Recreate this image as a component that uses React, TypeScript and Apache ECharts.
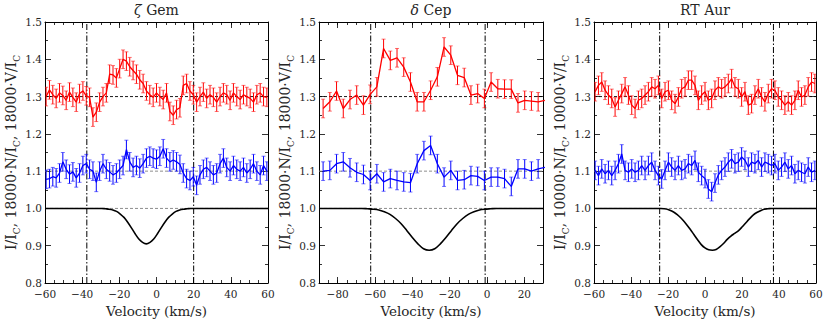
import React, { useEffect, useRef } from "react";
import * as echarts from "echarts";

// ---------- data ----------
// zeta Gem (velocity grid: start, step)
const ZG_V_START = -59.4;
const ZG_V_STEP = 1.8;
const ZG_STOKES_V = [
  1.300, 1.318, 1.305, 1.295, 1.310, 1.303, 1.290, 1.312, 1.298, 1.285,
  1.308, 1.315, 1.302, 1.298, 1.245, 1.258, 1.285, 1.300, 1.310, 1.360,
  1.358, 1.350, 1.375, 1.400, 1.395, 1.380, 1.370, 1.360, 1.345, 1.335,
  1.315, 1.305, 1.298, 1.310, 1.300, 1.292, 1.310, 1.260, 1.250, 1.265,
  1.270, 1.330, 1.335, 1.315, 1.305, 1.285, 1.300, 1.312, 1.295, 1.305,
  1.298, 1.285, 1.300, 1.310, 1.305, 1.290, 1.310, 1.300, 1.292, 1.305,
  1.300, 1.295, 1.285, 1.305, 1.310, 1.300, 1.298,
];
const ZG_NULL_N = [
  1.078, 1.080, 1.085, 1.082, 1.095, 1.125, 1.105, 1.092, 1.098, 1.082,
  1.095, 1.115, 1.120, 1.105, 1.100, 1.070, 1.100, 1.120, 1.105, 1.098,
  1.090, 1.095, 1.105, 1.115, 1.158, 1.125, 1.110, 1.115, 1.108, 1.120,
  1.135, 1.140, 1.135, 1.132, 1.140, 1.160, 1.135, 1.125, 1.130, 1.125,
  1.118, 1.095, 1.080, 1.075, 1.085, 1.062, 1.090, 1.105, 1.110, 1.100,
  1.090, 1.095, 1.120, 1.135, 1.110, 1.100, 1.115, 1.105, 1.100, 1.110,
  1.095, 1.105, 1.120, 1.100, 1.090, 1.115, 1.100,
];
const ZG_ERR = 0.025;
const ZG_PROF_VEL = [
  -60, -31.5, -29.5, -27.5, -25.5, -23.5, -21.5, -19.5, -17.5, -15.5, -13.5, -11.5, -9.5, -7.5,
  -5.5, -3.5, -1.5, 0.5, 2.5, 4.5, 6.5, 8.5, 10.5, 12.5, 14.5, 16.5, 18.5, 20.5, 60,
];
const ZG_PROF_I = [
  1.0, 1.0, 1.0, 0.999, 0.998, 0.996, 0.992, 0.985, 0.976, 0.963, 0.948, 0.932, 0.918, 0.909,
  0.905, 0.909, 0.918, 0.932, 0.948, 0.963, 0.976, 0.985, 0.992, 0.996, 0.998, 0.999, 1.0, 1.0, 1.0,
];
const ZG_LIMITS = [-37.5, 20];

// delta Cep
const DC_V_START = -87.8;
const DC_V_STEP = 3.6;
const DC_STOKES_V = [
  1.268, 1.286, 1.315, 1.268, 1.292, 1.304, 1.277, 1.306, 1.326, 1.429,
  1.397, 1.404, 1.379, 1.339, 1.286, 1.286, 1.317, 1.353, 1.433, 1.411,
  1.357, 1.351, 1.304, 1.308, 1.295, 1.339, 1.321, 1.320, 1.320, 1.283,
  1.290, 1.288, 1.286, 1.290,
];
const DC_NULL_N = [
  1.100, 1.102, 1.120, 1.125, 1.109, 1.097, 1.091, 1.075, 1.093, 1.071,
  1.080, 1.075, 1.071, 1.069, 1.120, 1.155, 1.169, 1.120, 1.084, 1.102,
  1.075, 1.077, 1.088, 1.086, 1.075, 1.084, 1.084, 1.080, 1.059, 1.106,
  1.106, 1.100, 1.106, 1.110,
];
const DC_ERR = 0.025;
const DC_PROF_VEL = [
  -90, -67, -64, -61, -58, -55, -52, -49, -46, -43, -40, -37, -34, -31,
  -28, -25, -22, -19, -16, -13, -10, -7, -4, -1, 2, 5, 30,
];
const DC_PROF_I = [
  1.0, 1.0, 0.999, 0.998, 0.996, 0.991, 0.984, 0.973, 0.959, 0.941, 0.922, 0.905, 0.892, 0.888,
  0.892, 0.905, 0.922, 0.941, 0.959, 0.973, 0.984, 0.991, 0.996, 0.998, 0.999, 1.0, 1.0,
];
const DC_LIMITS = [-62.3, -1];

// RT Aur
const RT_V_START = -59.4;
const RT_V_STEP = 1.8;
const RT_STOKES_V = [
  1.313, 1.330, 1.339, 1.317, 1.304, 1.295, 1.272, 1.290, 1.308, 1.326,
  1.304, 1.277, 1.268, 1.290, 1.295, 1.304, 1.313, 1.326, 1.321, 1.330,
  1.295, 1.313, 1.317, 1.290, 1.281, 1.299, 1.321, 1.326, 1.344, 1.344,
  1.330, 1.290, 1.304, 1.313, 1.290, 1.295, 1.317, 1.326, 1.321, 1.326,
  1.335, 1.348, 1.326, 1.321, 1.299, 1.313, 1.277, 1.281, 1.304, 1.321,
  1.299, 1.286, 1.308, 1.321, 1.317, 1.299, 1.290, 1.277, 1.286, 1.277,
  1.290, 1.317, 1.299, 1.304, 1.326, 1.339, 1.335,
];
const RT_NULL_N = [
  1.102, 1.088, 1.106, 1.093, 1.102, 1.088, 1.102, 1.120, 1.146, 1.102,
  1.097, 1.106, 1.097, 1.102, 1.115, 1.102, 1.115, 1.124, 1.102, 1.088,
  1.079, 1.102, 1.124, 1.111, 1.102, 1.115, 1.102, 1.106, 1.120, 1.115,
  1.129, 1.097, 1.088, 1.080, 1.052, 1.045, 1.068, 1.090, 1.102, 1.111,
  1.124, 1.133, 1.120, 1.124, 1.138, 1.129, 1.111, 1.124, 1.120, 1.129,
  1.111, 1.124, 1.120, 1.115, 1.120, 1.102, 1.111, 1.124, 1.106, 1.115,
  1.093, 1.102, 1.097, 1.093, 1.111, 1.097, 1.102,
];
const RT_ERR = 0.025;
const RT_PROF_VEL = [
  -60, -24, -22, -20, -18, -16, -14, -12, -10, -8, -6, -4, -2, 0, 2, 4, 6, 8, 10,
  12, 14, 16, 18, 20, 22, 24, 26, 28, 30, 32, 34, 36, 60,
];
const RT_PROF_I = [
  1.0, 1.0, 0.999, 0.997, 0.993, 0.987, 0.979, 0.969, 0.957, 0.944, 0.930, 0.916, 0.903, 0.894, 0.889, 0.888, 0.890, 0.897, 0.906,
  0.917, 0.926, 0.933, 0.940, 0.950, 0.961, 0.972, 0.982, 0.989, 0.994, 0.998, 0.999, 1.0, 1.0,
];
const RT_LIMITS = [-24.5, 37];

// axes
const Y_MIN = 0.8;
const Y_MAX = 1.5;
const Y_STEP = 0.1;
const REF_LEVELS = [1.3, 1.1, 1.0];
const ZG_X_TICKS = [-60, -40, -20, 0, 20, 40, 60];
const DC_X_TICKS = [-80, -60, -40, -20, 0, 20];
const RT_X_TICKS = [-60, -40, -20, 0, 20, 40, 60];

// ---------- layout / style ----------
const FONT = "DejaVu Serif";
const TXT = "#262626";
const RED = "#ff0000";
const BLUE = "#0000ff";

const grid = (start: number, step: number, n: number) => {
  const out: number[] = [];
  for (let i = 0; i < n; i++) out.push(+(start + i * step).toFixed(2));
  return out;
};

const fmtX = (v: number) => (v < 0 ? "\u2212" + Math.abs(v) : String(v));

const errRender = (color: string) => (params: any, api: any) => {
  const x = api.value(0);
  const p1 = api.coord([x, api.value(1)]);
  const p2 = api.coord([x, api.value(2)]);
  const w = 2;
  const st = { stroke: color, lineWidth: 1 };
  const cap = { stroke: color, lineWidth: 1, opacity: 0.55 };
  return {
    type: "group",
    children: [
      { type: "line", shape: { x1: p1[0], y1: p1[1], x2: p2[0], y2: p2[1] }, style: st },
      { type: "line", shape: { x1: p1[0] - w, y1: p1[1], x2: p1[0] + w, y2: p1[1] }, style: cap },
      { type: "line", shape: { x1: p2[0] - w, y1: p2[1], x2: p2[0] + w, y2: p2[1] }, style: cap },
    ],
  };
};

interface Panel {
  left: number;
  width: number;
  xMin: number;
  xMax: number;
  ticks: number[];
  vel: number[];
  V: number[];
  N: number[];
  err: number;
  profV: number[];
  profI: number[];
  limits: number[];
  yName: string;
  title: string;
}

const yNameText = (k: string) =>
  `{n|I/I}{s|C}{n|, ${k}\u00b7N/I}{s|C}{n|, ${k}\u00b7V/I}{s|C}`;

const PANELS: Panel[] = [
  {
    left: 45, width: 223, xMin: -60, xMax: 60, ticks: ZG_X_TICKS,
    vel: grid(ZG_V_START, ZG_V_STEP, ZG_STOKES_V.length), V: ZG_STOKES_V, N: ZG_NULL_N, err: ZG_ERR,
    profV: ZG_PROF_VEL, profI: ZG_PROF_I, limits: ZG_LIMITS,
    yName: yNameText("18000"), title: "{i|\u03b6} Gem",
  },
  {
    left: 319, width: 224, xMin: -90, xMax: 30, ticks: DC_X_TICKS,
    vel: grid(DC_V_START, DC_V_STEP, DC_STOKES_V.length), V: DC_STOKES_V, N: DC_NULL_N, err: DC_ERR,
    profV: DC_PROF_VEL, profI: DC_PROF_I, limits: DC_LIMITS,
    yName: yNameText("18000"), title: "{i|\u03b4} Cep",
  },
  {
    left: 594, width: 222, xMin: -60, xMax: 60, ticks: RT_X_TICKS,
    vel: grid(RT_V_START, RT_V_STEP, RT_STOKES_V.length), V: RT_STOKES_V, N: RT_NULL_N, err: RT_ERR,
    profV: RT_PROF_VEL, profI: RT_PROF_I, limits: RT_LIMITS,
    yName: yNameText("10000"), title: "RT Aur",
  },
];

const TOP = 22;
const HEIGHT = 261;

function buildOption() {
  const grids: any[] = [];
  const xAxes: any[] = [];
  const yAxes: any[] = [];
  const series: any[] = [];
  const graphics: any[] = [];

  PANELS.forEach((p, g) => {
    grids.push({ left: p.left, top: TOP, width: p.width, height: HEIGHT, containLabel: false });
    const minors: number[] = [];
    for (let v = Math.ceil(p.xMin / 5) * 5; v <= p.xMax; v += 5) minors.push(v);
    const base = {
      gridIndex: g, type: "value", min: p.xMin, max: p.xMax,
      splitLine: { show: false },
    };
    xAxes.push({
      ...base, position: "bottom",
      axisLine: { show: true, onZero: false, lineStyle: { color: "#000", width: 1 } },
      axisTick: { show: true, inside: true, length: 6, customValues: p.ticks, lineStyle: { color: "#000", width: 0.8 } },
      axisLabel: { show: true, customValues: p.ticks, formatter: fmtX, color: TXT, fontFamily: FONT, fontSize: 10.5, margin: 5 },
      name: "Velocity (km/s)", nameLocation: "middle", nameGap: 19,
      nameTextStyle: { fontFamily: FONT, fontSize: 13.5, color: TXT },
    });
    xAxes.push({
      ...base, position: "bottom",
      axisLine: { show: false, onZero: false },
      axisTick: { show: true, inside: true, length: 3, customValues: minors, lineStyle: { color: "#000", width: 0.8 } },
      axisLabel: { show: false },
    });
    xAxes.push({
      ...base, position: "top",
      axisLine: { show: true, onZero: false, lineStyle: { color: "#000", width: 1 } },
      axisTick: { show: true, inside: true, length: 6, customValues: p.ticks, lineStyle: { color: "#000", width: 0.8 } },
      axisLabel: { show: false },
    });
    xAxes.push({
      ...base, position: "top",
      axisLine: { show: false, onZero: false },
      axisTick: { show: true, inside: true, length: 3, customValues: minors, lineStyle: { color: "#000", width: 0.8 } },
      axisLabel: { show: false },
    });

    const yBase = {
      gridIndex: g, type: "value", min: Y_MIN, max: Y_MAX, interval: Y_STEP,
      splitLine: { show: false }, minorSplitLine: { show: false },
      axisLine: { show: true, onZero: false, lineStyle: { color: "#000", width: 1 } },
      axisTick: { show: true, inside: true, length: 6, lineStyle: { color: "#000", width: 0.8 } },
      minorTick: { show: true, splitNumber: 2, length: 3, lineStyle: { color: "#000", width: 0.8 } },
    };
    yAxes.push({
      ...yBase, position: "left",
      axisLabel: { formatter: (v: number) => v.toFixed(1), color: TXT, fontFamily: FONT, fontSize: 10.5, margin: 3 },
      name: p.yName, nameLocation: "middle", nameRotate: 90, nameGap: 22,
      nameTextStyle: {
        fontFamily: FONT, fontSize: 14, color: TXT,
        rich: {
          n: { fontFamily: FONT, fontSize: 14, color: TXT, lineHeight: 20, verticalAlign: "middle" },
          s: { fontFamily: FONT, fontSize: 9, color: TXT, lineHeight: 9, verticalAlign: "bottom" },
        },
      },
    });
    yAxes.push({ ...yBase, position: "right", axisLabel: { show: false } });

    const xi = 4 * g;
    const yi = 2 * g;

    REF_LEVELS.forEach((lvl, k) => {
      series.push({
        type: "line", xAxisIndex: xi, yAxisIndex: yi, symbol: "none", silent: true, z: 1,
        data: [[p.xMin, lvl], [p.xMax, lvl]],
        lineStyle: { color: k === 0 ? "#000" : "#808080", width: 0.9, type: [3, 2] },
      });
    });
    p.limits.forEach((lim) => {
      series.push({
        type: "line", xAxisIndex: xi, yAxisIndex: yi, symbol: "none", silent: true, z: 1,
        data: [[lim, Y_MIN], [lim, Y_MAX]],
        lineStyle: { color: "#000", width: 1, type: [6, 2, 1.5, 2] },
      });
    });
    series.push({
      type: "line", xAxisIndex: xi, yAxisIndex: yi, symbol: "none", silent: true, z: 3,
      smooth: 0.3,
      data: p.profV.map((v, i) => [v, p.profI[i]]),
      lineStyle: { color: "#000", width: 1.6 },
    });
    const addSeries = (vals: number[], color: string) => {
      const pts = vals.map((y, i) => [p.vel[i], y]);
      series.push({
        type: "line", xAxisIndex: xi, yAxisIndex: yi, symbol: "none", silent: true, z: 4,
        clip: true, data: pts, lineStyle: { color, width: 1.3 },
      });
      series.push({
        type: "custom", xAxisIndex: xi, yAxisIndex: yi, silent: true, z: 4, clip: true,
        renderItem: errRender(color),
        encode: { x: 0, y: [1, 2] },
        data: pts
          .filter((d) => d[0] >= p.xMin && d[0] <= p.xMax)
          .map((d) => [d[0], d[1] - p.err, d[1] + p.err]),
      });
    };
    addSeries(p.N, BLUE);
    addSeries(p.V, RED);

    graphics.push({
      type: "text", x: p.left + p.width / 2, y: 3, silent: true,
      style: {
        text: p.title, fontFamily: FONT, fontSize: 14, fill: TXT, align: "center", verticalAlign: "top",
        rich: { i: { fontFamily: FONT, fontSize: 14, fontStyle: "italic", fill: TXT } },
      },
    });
  });

  return {
    animation: false,
    backgroundColor: "#ffffff",
    grid: grids,
    xAxis: xAxes,
    yAxis: yAxes,
    series,
    graphic: graphics,
  };
}

export default function App() {
  const ref = useRef<HTMLDivElement>(null);
  useEffect(() => {
    if (!ref.current) return;
    const chart = echarts.init(ref.current, null, { renderer: "svg" });
    chart.setOption(buildOption() as any);
    return () => chart.dispose();
  }, []);
  return (
    <div
      ref={ref}
      style={{ position: "fixed", left: 0, top: 0, width: 830, height: 323, background: "#fff" }}
    />
  );
}
